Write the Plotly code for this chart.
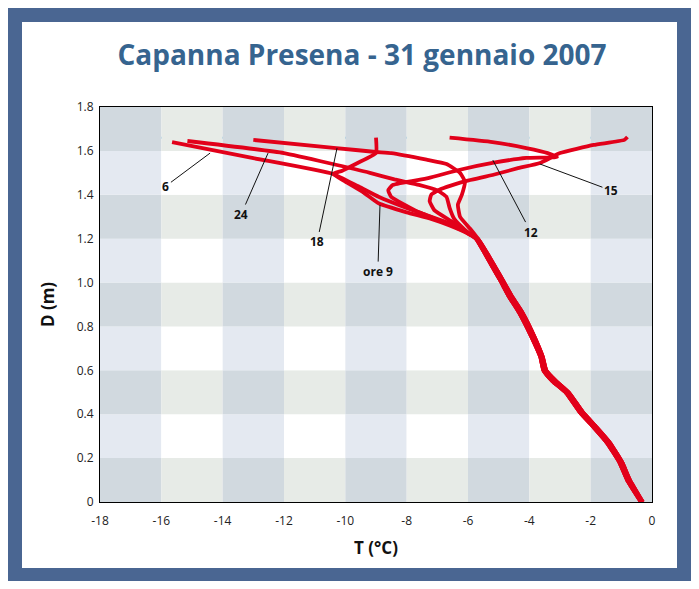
import plotly.graph_objects as go

# ---- data ---------------------------------------------------------------------------------------
SNOW_SURFACE = 1.66

HOURS = ["ore 9", "12", "15", "18", "24", "6"]

# upper parts of the profiles (temperature, depth) down to where they merge
T_9 = [-9.0, -9.0, -9.6, -10.1, -10.4, -10.0, -9.4, -8.9, -8.0, -7.2, -6.6, -6.1]
D_9 = [1.66, 1.59, 1.545, 1.51, 1.495, 1.46, 1.41, 1.36, 1.32, 1.29, 1.26, 1.23]

T_12 = [-6.6, -5.2, -4.1, -3.4, -3.1, -4.1, -5.2, -6.3, -7.3, -8.45, -8.6, -8.5, -7.6, -6.6, -6.0]
D_12 = [1.66, 1.64, 1.613, 1.59, 1.572, 1.568, 1.545, 1.513, 1.476, 1.445, 1.42, 1.39, 1.32, 1.265, 1.225]

T_15 = [-0.8, -0.9, -1.9, -3.0, -3.65, -4.4, -5.2, -6.2, -6.9, -7.2, -7.25, -7.1, -6.5, -5.95]
D_15 = [1.663, 1.65, 1.627, 1.59, 1.545, 1.52, 1.49, 1.458, 1.425, 1.40, 1.37, 1.33, 1.275, 1.22]

T_18 = [-13.0, -10.3, -9.0, -8.5, -7.35, -6.7, -6.26, -6.1, -6.2, -6.33, -6.26, -5.93]
D_18 = [1.65, 1.613, 1.595, 1.59, 1.56, 1.54, 1.50, 1.46, 1.40, 1.355, 1.30, 1.245]

T_24 = [-15.15, -12.0, -9.2, -8.4, -7.6, -7.0, -6.7, -6.6, -6.45, -6.1]
D_24 = [1.645, 1.59, 1.50, 1.47, 1.445, 1.42, 1.39, 1.34, 1.29, 1.24]

T_6 = [-15.65, -13.0, -10.4, -9.6, -8.9, -8.0, -7.2, -6.5, -6.05]
D_6 = [1.64, 1.567, 1.495, 1.44, 1.39, 1.34, 1.30, 1.265, 1.23]

# deep part, two slightly different traces of the common line
DEEP_A_T = [-5.74, -5.44, -5.2, -4.95, -4.66, -4.33, -3.93, -3.64, -3.54, -3.24, -2.8, -2.36, -1.9, -1.47, -1.06, -0.81, -0.36]
DEEP_A_D = [1.20, 1.13, 1.07, 1.01, 0.935, 0.862, 0.752, 0.66, 0.60, 0.55, 0.497, 0.41, 0.34, 0.27, 0.18, 0.10, 0.0]
DEEP_B_T = [-5.68, -5.36, -5.11, -4.86, -4.56, -4.22, -3.83, -3.56, -3.45, -3.12, -2.7, -2.26, -1.8, -1.37, -0.97, -0.72, -0.3]
DEEP_B_D = [1.20, 1.13, 1.07, 1.01, 0.935, 0.862, 0.752, 0.66, 0.60, 0.55, 0.497, 0.41, 0.34, 0.27, 0.18, 0.10, 0.0]

# label position + point on curve the leader goes to
LABEL_T = [-8.94, -3.95, -1.34, -10.92, -13.4, -15.85]
LABEL_D = [1.05, 1.23, 1.42, 1.185, 1.31, 1.44]
TIP_T = [-8.87, -5.19, -3.65, -10.27, -12.52, -14.41]
TIP_D = [1.353, 1.558, 1.54, 1.613, 1.59, 1.59]

X_TICKS = [-18, -16, -14, -12, -10, -8, -6, -4, -2, 0]
X_TICK_TEXT = ["-18", "-16", "-14", "-12", "-10", "-8", "-6", "-4", "-2", "0"]
Y_TICKS = [0, 0.2, 0.4, 0.6, 0.8, 1.0, 1.2, 1.4, 1.6, 1.8]
Y_TICK_TEXT = ["0", "0.2", "0.4", "0.6", "0.8", "1.0", "1.2", "1.4", "1.6", "1.8"]

# ----------------------------------------------------------------------------------------------------------------------

RED = "#e2001a"
FRAME = "#4a6692"

profiles = [
    (T_9 + DEEP_A_T, D_9 + DEEP_A_D),
    (T_12 + DEEP_B_T, D_12 + DEEP_B_D),
    (T_15 + DEEP_B_T, D_15 + DEEP_B_D),
    (T_18 + DEEP_B_T, D_18 + DEEP_B_D),
    (T_24 + DEEP_A_T, D_24 + DEEP_A_D),
    (T_6 + DEEP_A_T, D_6 + DEEP_A_D),
]

fig = go.Figure()

for name, (t, d) in zip(HOURS, profiles):
    fig.add_trace(go.Scatter(
        x=t, y=d, name=name, mode="lines",
        line=dict(color=RED, width=3.8, shape="spline", smoothing=0.4),
        showlegend=False,
    ))

# the page body adds 8px, so figure pixels = picture pixels - 8
W, H = 683, 573
L, R, T, B = 92, 39, 99, 79
pw, ph = W - L - R, H - T - B
px = lambda v: (v - L) / pw
py = lambda v: (H - B - v) / ph

shapes = [
    dict(type="rect", xref="paper", yref="paper", x0=px(-2), x1=px(W + 2), y0=py(H + 2), y1=py(-2),
         fillcolor=FRAME, line_width=0, layer="below"),
    dict(type="rect", xref="paper", yref="paper", x0=px(14), x1=px(669), y0=py(560), y1=py(14),
         fillcolor="white", line_width=0, layer="below"),
]

# checkerboard background
cell = {(0, 0): "#d1d9df", (0, 1): "#e7ebe7", (1, 0): "#e4e9f1", (1, 1): "#ffffff"}
for i in range(9):
    for j in range(9):
        shapes.append(dict(
            type="rect", xref="x", yref="y",
            x0=X_TICKS[i], x1=X_TICKS[i + 1], y0=Y_TICKS[j], y1=Y_TICKS[j + 1],
            fillcolor=cell[(j % 2, i % 2)], line_width=0, layer="below",
        ))

fig.update_layout(shapes=shapes)
fig.add_hline(y=SNOW_SURFACE, line=dict(color="#62b4e0", width=2), layer="below")

for name, lt, ld, tt, td in zip(HOURS, LABEL_T, LABEL_D, TIP_T, TIP_D):
    fig.add_annotation(
        x=tt, y=td, ax=lt, ay=ld, axref="x", ayref="y",
        text=f"<b>{name}</b>", showarrow=True, arrowhead=0, arrowwidth=1, arrowcolor="#111",
        font=dict(family="Open Sans", size=12, color="#111"),
    )

fig.update_layout(
    width=W, height=H,
    margin=dict(l=L, r=R, t=T, b=B),
    paper_bgcolor="white",
    plot_bgcolor="rgba(0,0,0,0)",
    font=dict(family="Open Sans", size=12, color="#222"),
    title=dict(
        text="<b>Capanna Presena - 31 gennaio 2007</b>",
        x=354 / W, xref="container", xanchor="center", y=1 - 47 / H, yanchor="middle",
        font=dict(family="Open Sans", size=28, color="#36648f"),
    ),
    xaxis=dict(
        range=[-18, 0], tickvals=X_TICKS, ticktext=X_TICK_TEXT, showgrid=False, zeroline=False,
        showline=True, linecolor="black", linewidth=1, mirror=True, ticks="", ticklabelstandoff=8,
        title=dict(text="<b>T (°C)</b>", font=dict(size=17, color="#111"), standoff=13),
    ),
    yaxis=dict(
        range=[0, 1.8], tickvals=Y_TICKS, ticktext=Y_TICK_TEXT, showgrid=False, zeroline=False,
        showline=True, linecolor="black", linewidth=1, mirror=True, ticks="", ticklabelstandoff=3,
        title=dict(text="<b>D (m)</b>", font=dict(size=17, color="#111"), standoff=17),
    ),
)

fig.write_html("out.html")
